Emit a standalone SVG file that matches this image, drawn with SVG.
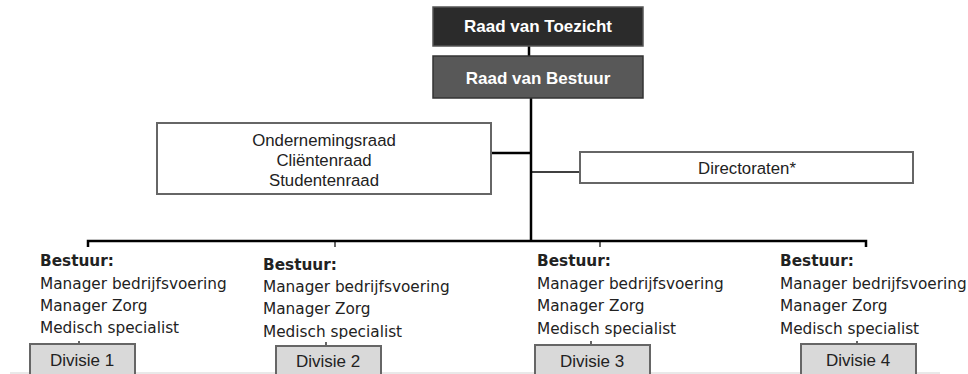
<svg xmlns="http://www.w3.org/2000/svg" width="968" height="374" viewBox="0 0 968 374">
<style>
.hd{font-family:"Liberation Sans",Arial,sans-serif;font-weight:bold;font-size:17px;fill:#fff;text-anchor:middle}
.bx{font-family:"Liberation Sans",Arial,sans-serif;font-size:16.8px;fill:#222;text-anchor:middle}
.dv{font-family:"Liberation Sans",Arial,sans-serif;font-size:17px;fill:#222;text-anchor:middle}
.bs{font-family:"DejaVu Sans",Verdana,sans-serif;font-size:15.3px;fill:#222}
.bs .b{font-weight:bold}
.wbox{fill:#fff;stroke:#666;stroke-width:2}
.dbox{fill:#d9d9d9;stroke:#666;stroke-width:2}
.ln{stroke:#000;fill:none;stroke-width:2.5}
.tk{stroke:#000;fill:none;stroke-width:1.2}
</style>
<defs>
<clipPath id="c2"><rect x="250" y="240" width="250" height="99"/></clipPath>
</defs>
<rect width="968" height="374" fill="#fff"/>
<line x1="10" y1="373" x2="940" y2="373" stroke="#e2e2e2" stroke-width="1.5"/>

<g id="connectors">
<line class="ln" x1="529" y1="46" x2="529" y2="56"/>
<line class="ln" x1="531" y1="98" x2="531" y2="241"/>
<line class="ln" x1="491" y1="153" x2="531" y2="153"/>
<line class="ln" x1="531" y1="172" x2="580" y2="172" style="stroke-width:1.6"/>
<polyline class="ln" points="88,247 88,241 866,241 866,247"/>
<line class="tk" x1="335" y1="241" x2="335" y2="247"/>
<line class="tk" x1="600" y1="241" x2="600" y2="247"/>
<line class="tk" x1="79" y1="341" x2="79" y2="345"/>
<line class="tk" x1="326" y1="342" x2="326" y2="347"/>
<line class="tk" x1="591" y1="341" x2="591" y2="346"/>
<line class="tk" x1="857" y1="341" x2="857" y2="345"/>
</g>

<g id="raad-van-toezicht">
<rect x="433" y="7" width="210" height="39" fill="#2b2b2b" stroke="#555" stroke-width="1.5"/>
<text class="hd" x="538" y="32">Raad van Toezicht</text>
</g>
<g id="raad-van-bestuur">
<rect x="433" y="56" width="210" height="42" fill="#585858" stroke="#333" stroke-width="1.5"/>
<text class="hd" x="538" y="84">Raad van Bestuur</text>
</g>
<g id="raden">
<rect class="wbox" x="157" y="123" width="334" height="71"/>
<text class="bx" x="324" y="146">Ondernemingsraad</text>
<text class="bx" x="324" y="166">Cliëntenraad</text>
<text class="bx" x="324" y="186">Studentenraad</text>
</g>
<g id="directoraten">
<rect class="wbox" x="580" y="152" width="333" height="31"/>
<text class="bx" x="747" y="174">Directoraten*</text>
</g>

<g id="bestuur-1" class="bs">
<text x="40" y="266" class="b">Bestuur:</text>
<text x="40" y="289">Manager bedrijfsvoering</text>
<text x="40" y="311">Manager Zorg</text>
<text x="40" y="333">Medisch specialist</text>
</g>
<g id="bestuur-2" class="bs" clip-path="url(#c2)">
<text x="263" y="269.5" class="b">Bestuur:</text>
<text x="263" y="292">Manager bedrijfsvoering</text>
<text x="263" y="314">Manager Zorg</text>
<text x="263" y="336.5">Medisch specialist</text>
</g>
<g id="bestuur-3" class="bs">
<text x="537" y="266" class="b">Bestuur:</text>
<text x="537" y="289">Manager bedrijfsvoering</text>
<text x="537" y="311">Manager Zorg</text>
<text x="537" y="334">Medisch specialist</text>
</g>
<g id="bestuur-4" class="bs">
<text x="780" y="266" class="b">Bestuur:</text>
<text x="780" y="289">Manager bedrijfsvoering</text>
<text x="780" y="311">Manager Zorg</text>
<text x="780" y="334">Medisch specialist</text>
</g>

<g id="divisie-1">
<rect class="dbox" x="30" y="344" width="105" height="40"/>
<text class="dv" x="82" y="366">Divisie 1</text>
</g>
<g id="divisie-2">
<rect class="dbox" x="276" y="346" width="105" height="40"/>
<text class="dv" x="328" y="367">Divisie 2</text>
</g>
<g id="divisie-3">
<rect class="dbox" x="535" y="345" width="115" height="40"/>
<text class="dv" x="592" y="367">Divisie 3</text>
</g>
<g id="divisie-4">
<rect class="dbox" x="801" y="344" width="115" height="40"/>
<text class="dv" x="858" y="366">Divisie 4</text>
</g>
</svg>
